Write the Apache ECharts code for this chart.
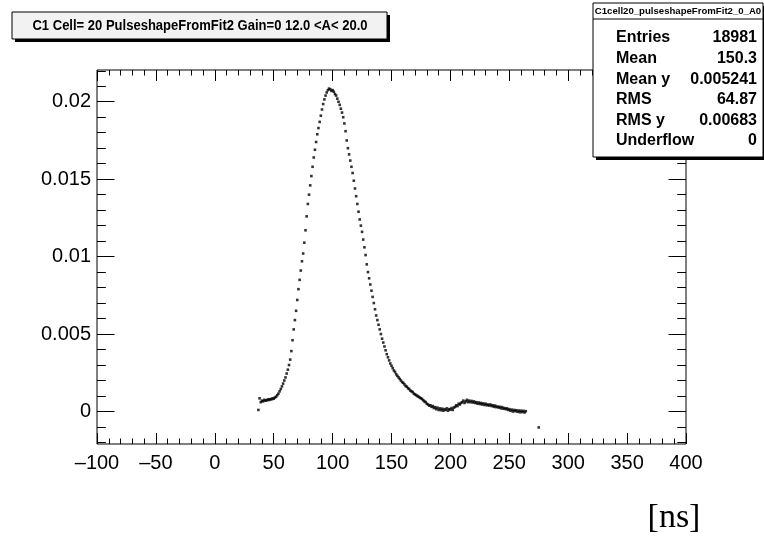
<!DOCTYPE html>
<html>
<head>
<meta charset="utf-8">
<script src="https://cdn.jsdelivr.net/npm/echarts@6/dist/echarts.min.js"></script>
<style>
  html, body { margin: 0; padding: 0; background: #fff; }
  #main { width: 764px; height: 543px; }
</style>
</head>
<body>
<div id="main"></div>
<script>
// pulse shape, one point per ns bin starting at 37 ns; amplitude in units of 1e-3
var firstBin = 37;
var amp_e3 = [
  0.10, 0.85, 0.60, 0.70, 0.65, 0.75, 0.70, 0.72, 0.78, 0.74,
  0.80, 0.78, 0.85, 0.82, 0.90, 0.95, 1.05, 1.15, 1.30, 1.45,
  1.62, 1.80, 2.00, 2.20, 2.45, 2.70, 3.00, 3.35, 3.90, 4.60,
  5.30, 5.90, 6.50, 7.20, 7.90, 8.50, 9.10, 9.70, 10.2, 10.9,
  11.7, 12.6, 13.4, 14.0, 14.6, 15.2, 15.8, 16.4, 16.9, 17.4,
  17.9, 18.3, 18.7, 19.1, 19.5, 19.85, 20.15, 20.4, 20.6, 20.75,
  20.85, 20.8, 20.7, 20.75, 20.65, 20.5, 20.4, 20.2, 20.0, 19.8,
  19.55, 19.3, 19.0, 18.6, 18.1, 17.5, 17.0, 16.6, 16.2, 15.8,
  15.4, 14.9, 14.4, 13.9, 13.4, 12.9, 12.4, 12.0, 11.6, 11.1,
  10.6, 10.1, 9.50, 9.00, 8.60, 8.20, 7.80, 7.40, 7.00, 6.60,
  6.20, 5.90, 5.60, 5.30, 5.00, 4.70, 4.45, 4.20, 3.95, 3.70,
  3.50, 3.30, 3.10, 2.95, 2.80, 2.65, 2.55, 2.40, 2.30, 2.20,
  2.10, 2.00, 1.90, 1.85, 1.75, 1.65, 1.60, 1.50, 1.45, 1.35,
  1.30, 1.25, 1.15, 1.10, 1.05, 1.00, 0.95, 0.90, 0.85, 0.80,
  0.72, 0.65, 0.60, 0.50, 0.45, 0.38, 0.40, 0.30, 0.35, 0.22,
  0.28, 0.15, 0.25, 0.10, 0.20, 0.08, 0.18, 0.05, 0.15, 0.10,
  0.20, 0.05, 0.15, 0.12, 0.22, 0.10, 0.25, 0.30, 0.40, 0.35,
  0.50, 0.45, 0.55, 0.60, 0.70, 0.55, 0.65, 0.75, 0.60, 0.70,
  0.60, 0.68, 0.58, 0.65, 0.55, 0.60, 0.50, 0.58, 0.48, 0.55,
  0.45, 0.52, 0.42, 0.50, 0.40, 0.45, 0.38, 0.45, 0.35, 0.40,
  0.30, 0.38, 0.28, 0.32, 0.25, 0.30, 0.20, 0.28, 0.18, 0.22,
  0.15, 0.20, 0.10, 0.15, 0.05, 0.12, 0.00, 0.10, 0.02, 0.08,
  -0.02, 0.06, -0.05, 0.05, -0.04, 0.04, -0.06, 0.02
];
// stray entry far right
var strayTime = [275];
var strayAmp_e3 = [-1.03];

var yMajor = [0, 0.005, 0.01, 0.015, 0.02];
var yMinor = [-0.002, -0.001, 0.001, 0.002, 0.003, 0.004, 0.006, 0.007, 0.008, 0.009,
  0.011, 0.012, 0.013, 0.014, 0.016, 0.017, 0.018, 0.019, 0.021, 0.022];

var titleText = "C1 Cell= 20 PulseshapeFromFit2 Gain=0 12.0 <A< 20.0";
var statsName = "C1cell20_pulseshapeFromFit2_0_A0";
var statLabels = ["Entries", "Mean", "Mean y", "RMS", "RMS y", "Underflow"];
var statValues = ["18981", "150.3", "0.005241", "64.87", "0.00683", "0"];

var points = amp_e3.map(function (v, i) { return [firstBin + i, v / 1000]; });
strayTime.forEach(function (t, i) { points.push([t, strayAmp_e3[i] / 1000]); });

var FONT = "Liberation Sans";
var chart = echarts.init(document.getElementById("main"));

function xAxisCfg(pos, labels) {
  return {
    type: "value", position: pos, min: -100, max: 400, interval: 50,
    axisLine: { show: false, onZero: false },
    splitLine: { show: false },
    axisTick: { show: true, inside: true, length: 11, lineStyle: { color: "#000", width: 1 } },
    minorTick: { show: true, splitNumber: 5, length: 5.5, lineStyle: { color: "#000", width: 1 } },
    axisLabel: {
      show: labels, margin: 9, color: "#000", fontFamily: FONT, fontSize: 20,
      formatter: function (v) { return String(v).replace("-", "\u2013"); }
    }
  };
}
function yAxisCfg(pos, ticks, len, labels) {
  return {
    type: "value", position: pos, min: -0.0021, max: 0.02205,
    axisLine: { show: false, onZero: false },
    splitLine: { show: false },
    axisTick: { show: true, inside: true, length: len, customValues: ticks, lineStyle: { color: "#000", width: 1 } },
    axisLabel: {
      show: labels, customValues: ticks, margin: 6, color: "#000", fontFamily: FONT, fontSize: 20,
      formatter: function (v) { return v === 0 ? "0" : String(+v.toFixed(4)); }
    }
  };
}

var statFont = "bold 16px " + FONT;
var option = {
  animation: false,
  backgroundColor: "#fff",
  grid: { left: 97, top: 70, width: 589, height: 374, show: true, borderColor: "#000", borderWidth: 1, backgroundColor: "#fff" },
  xAxis: [xAxisCfg("bottom", true), xAxisCfg("top", false)],
  yAxis: [
    yAxisCfg("left", yMajor, 17.5, true),
    yAxisCfg("left", yMinor, 8.8, false),
    yAxisCfg("right", yMajor, 17.5, false),
    yAxisCfg("right", yMinor, 8.8, false)
  ],
  series: [{
    type: "scatter", xAxisIndex: 0, yAxisIndex: 0,
    symbol: "rect", symbolSize: 2.6,
    itemStyle: { color: "#000" },
    data: points
  }],
  graphic: [
    // title box with shadow
    { type: "rect", z: 50, shape: { x: 15, y: 15, width: 375, height: 27 }, style: { fill: "#000" } },
    { type: "rect", z: 51, shape: { x: 12, y: 12, width: 375, height: 27 }, style: { fill: "#f2f2f2", stroke: "#000", lineWidth: 1 } },
    { type: "text", z: 52, x: 200, y: 26, scaleX: 0.93, style: { text: titleText, fill: "#000", font: "bold 14px " + FONT, align: "center", verticalAlign: "middle" } },
    // stats box
    { type: "rect", z: 50, shape: { x: 596, y: 6, width: 170, height: 154 }, style: { fill: "#000" } },
    { type: "rect", z: 51, shape: { x: 593, y: 3, width: 170, height: 154 }, style: { fill: "#fff", stroke: "#000", lineWidth: 1 } },
    { type: "line", z: 52, shape: { x1: 593, y1: 19, x2: 763, y2: 19 }, style: { stroke: "#000", lineWidth: 1 } },
    { type: "text", z: 52, x: 678, y: 11, style: { text: statsName, fill: "#000", font: "bold 9.6px " + FONT, align: "center", verticalAlign: "middle" } }
  ].concat(statLabels.map(function (s, i) {
    return { type: "text", z: 52, x: 616, y: 38 + i * 20.6, style: { text: s, fill: "#000", font: statFont, align: "left", verticalAlign: "middle" } };
  })).concat(statValues.map(function (s, i) {
    return { type: "text", z: 52, x: 757, y: 38 + i * 20.6, style: { text: s, fill: "#000", font: statFont, align: "right", verticalAlign: "middle" } };
  })).concat([
    { type: "text", z: 52, x: 674, y: 518, style: { text: "[ns]", fill: "#000", font: "34px Liberation Serif", align: "center", verticalAlign: "middle" } }
  ])
};
chart.setOption(option);
</script>
</body>
</html>
